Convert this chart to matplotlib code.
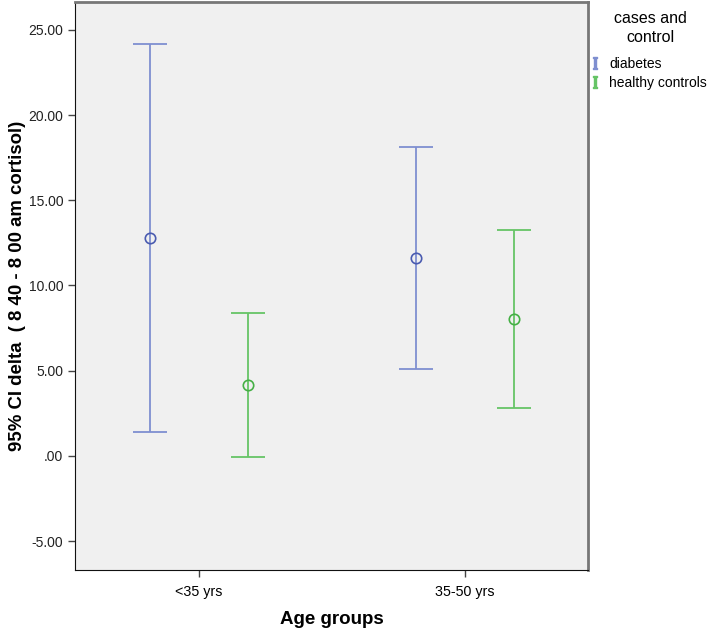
import numpy as np
import matplotlib.pyplot as plt
from matplotlib.lines import Line2D

plt.rcParams['font.family'] = ['Liberation Sans', 'DejaVu Sans']
plt.rcParams['mathtext.fontset'] = 'dejavuserif'

groups = ['<35 yrs', '35-50 yrs']
series = ['diabetes', 'healthy controls']
means = {'diabetes': [12.77, 11.59], 'healthy controls': [4.15, 8.03]}
lower = {'diabetes': [1.41, 5.08], 'healthy controls': [-0.09, 2.82]}
upper = {'diabetes': [24.14, 18.15], 'healthy controls': [8.40, 13.26]}
yticks = [-5, 0, 5, 10, 15, 20, 25]
ytick_labels = ['-5.00', '.00', '5.00', '10.00', '15.00', '20.00', '25.00']

line_colors = {'diabetes': '#7f8fd0', 'healthy controls': '#66c466'}
mark_colors = {'diabetes': '#4a5bb0', 'healthy controls': '#45b045'}
offsets = {'diabetes': -0.184, 'healthy controls': 0.184}

fig = plt.figure(figsize=(7.09, 6.3), dpi=100)
ax = fig.add_axes([0.1062, 0.096, 0.7238, 0.901])
ax.set_facecolor('#f0f0f0')

x = np.arange(len(groups))
for s in series:
    m = np.array(means[s])
    lo = m - np.array(lower[s])
    hi = np.array(upper[s]) - m
    ax.errorbar(x + offsets[s], m, yerr=[lo, hi], fmt='none',
                ecolor=line_colors[s], elinewidth=1.3, capsize=12, capthick=1.3)
    ax.plot(x + offsets[s], m, 'o', ms=7.5, mfc='none', mec=mark_colors[s], mew=1.2)

ax.set_xlim(-0.465, 1.464)
ax.set_ylim(-6.67, 26.64)
ax.set_xticks(x)
ax.set_xticklabels(groups, fontsize=10.3)
ax.set_yticks(yticks)
ax.set_yticklabels(ytick_labels, fontsize=10, color='#222222')
ax.tick_params(axis='both', direction='out', length=5, width=1, color='#444444')
ax.tick_params(axis='x', pad=6)

for side in ['left', 'bottom']:
    ax.spines[side].set_color('#111111')
ax.spines['top'].set_color('#777777')
ax.spines['top'].set_linewidth(2)
ax.spines['right'].set_color('#777777')
ax.spines['right'].set_linewidth(2)

ax.set_xlabel('Age groups', fontsize=13.5, fontweight='bold', labelpad=9)
ax.set_ylabel('95% CI delta  ( 8 40 - 8 00 am cortisol)', fontsize=13.4,
              fontweight='bold', labelpad=2)

# legend title drawn separately so it can sit centred above the entries
fig.text(0.917, 0.983, 'cases and\ncontrol', ha='center', va='top',
         fontsize=11.5, linespacing=1.35)
handles = [Line2D([0], [0], color=line_colors[s], marker='$\\mathrm{I}$',
                  linestyle='none', ms=8) for s in series]
fig.legend(handles, series, loc='upper left', bbox_to_anchor=(0.833, 0.91),
           frameon=False, fontsize=10, handlelength=0.6, handletextpad=0.75,
           borderaxespad=0, borderpad=0, labelspacing=0.4)

fig.savefig('out.png', dpi=100)
